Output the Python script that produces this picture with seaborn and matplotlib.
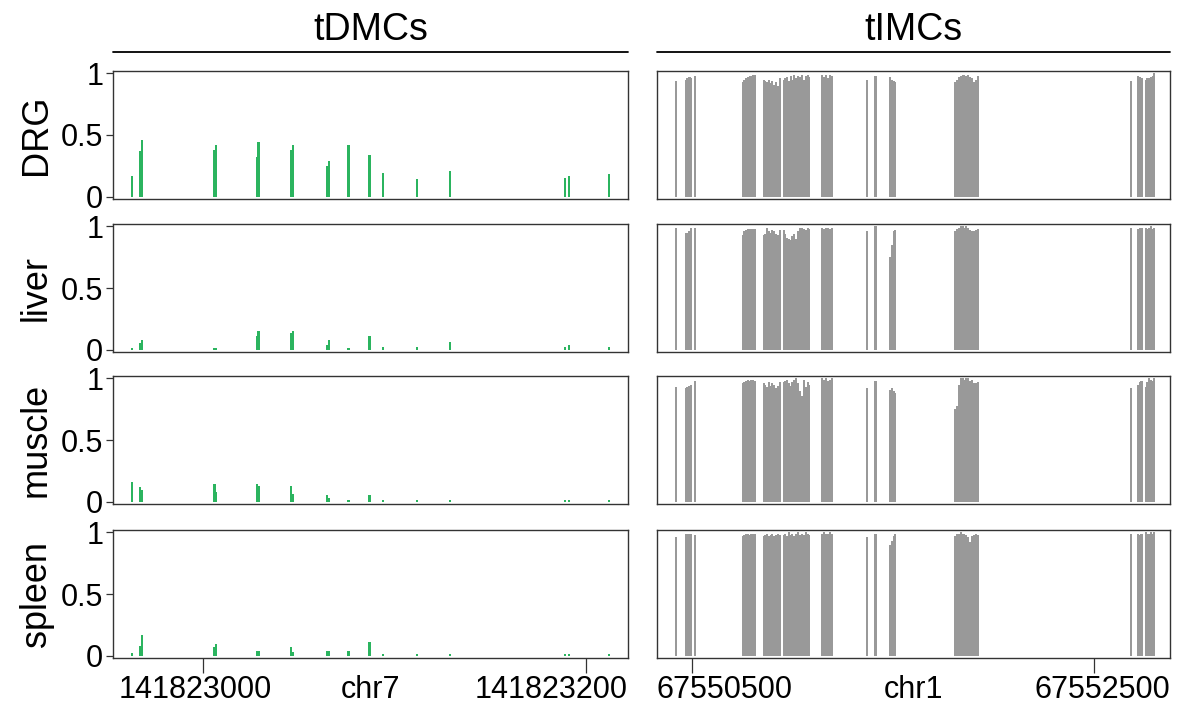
import numpy as np
import pandas as pd
import matplotlib
matplotlib.use("Agg")
import matplotlib.pyplot as plt
import seaborn as sns

# ---------------- data ----------------
tissues = ["DRG", "liver", "muscle", "spleen"]

# tDMCs on chr7
dmc_chrom = "chr7"
dmc_pos = [141822963, 141822967, 141822968, 141823006, 141823007, 141823028, 141823029,
           141823046, 141823047, 141823065, 141823066, 141823076, 141823087, 141823094,
           141823112, 141823129, 141823189, 141823191, 141823212]
dmc_DRG = [0.17, 0.37, 0.46, 0.38, 0.42, 0.32, 0.44, 0.38, 0.42, 0.25, 0.29, 0.42, 0.34,
           0.19, 0.14, 0.21, 0.15, 0.17, 0.18]
dmc_liver = [0.01, 0.05, 0.08, 0.01, 0.01, 0.11, 0.15, 0.135, 0.15, 0.04, 0.08, 0.01, 0.11,
             0.02, 0.02, 0.06, 0.02, 0.04, 0.02]
dmc_muscle = [0.16, 0.12, 0.09, 0.14, 0.08, 0.14, 0.125, 0.13, 0.06, 0.055, 0.03, 0.015, 0.05,
              0.01, 0.01, 0.015, 0.01, 0.01, 0.01]
dmc_spleen = [0.02, 0.08, 0.17, 0.07, 0.09, 0.04, 0.04, 0.07, 0.03, 0.04, 0.04, 0.04, 0.11,
              0.01, 0.01, 0.01, 0.01, 0.015, 0.01]
dmc_ticks = [141823000, 141823200]
dmc_xlim = (141822953, 141823222)

# tIMCs on chr1
imc_chrom = "chr1"
imc_pos = [67550418,
           67550467, 67550473, 67550480, 67550486, 67550492,
           67550513,
           67550752, 67550760, 67550769, 67550777, 67550786, 67550795, 67550804, 67550813,
           67550855, 67550863, 67550872, 67550881, 67550890, 67550898, 67550908, 67550917,
           67550927, 67550937,
           67550955, 67550963, 67550972, 67550981, 67550990, 67550999, 67551009, 67551018,
           67551027, 67551037, 67551046, 67551056, 67551065, 67551075, 67551084,
           67551148, 67551157, 67551166, 67551176, 67551185, 67551194,
           67551369,
           67551413,
           67551487, 67551495, 67551503, 67551510,
           67551811, 67551820, 67551829, 67551838, 67551847, 67551856, 67551865, 67551875,
           67551884, 67551893, 67551905, 67551913, 67551922,
           67552687,
           67552721, 67552730, 67552739,
           67552759, 67552768, 67552777, 67552786, 67552795, 67552803]
imc_DRG = [0.94,
           0.95, 0.96, 0.96, 0.97, 0.96,
           0.98,
           0.93, 0.95, 0.96, 0.97, 0.98, 0.98, 0.99, 0.99,
           0.95, 0.94, 0.93, 0.95, 0.92, 0.94, 0.91, 0.93, 0.90, 0.96,
           0.95, 0.96, 0.97, 0.94, 0.98, 0.95, 0.99, 0.96, 0.98, 0.97, 0.99, 0.95, 0.98, 0.99, 0.97,
           0.99, 0.97, 0.99, 0.96, 0.99, 0.98,
           0.95,
           0.98,
           0.97, 0.95, 0.94, 0.93,
           0.93, 0.95, 0.97, 0.98, 0.99, 0.99, 0.98, 0.99, 0.97, 0.96, 0.93, 0.95, 0.98,
           0.94,
           0.98, 0.97, 0.96,
           0.95, 0.96, 0.96, 0.97, 0.98, 1.00]
imc_liver = [0.99,
             0.95, 0.95, 0.95, 0.96, 0.99,
             0.99,
             0.93, 0.96, 0.97, 0.98, 0.98, 0.98, 0.98, 0.98,
             0.93, 0.94, 0.99, 0.96, 0.95, 0.97, 0.96, 0.94, 0.93, 0.97,
             0.97, 0.94, 0.91, 0.90, 0.89, 0.92, 0.94, 0.90, 0.96, 0.99, 0.99, 0.98, 0.97, 0.99, 0.98,
             0.99, 0.98, 0.99, 0.99, 0.98, 0.99,
             0.96,
             1.00,
             0.75, 0.85, 0.96, 0.97,
             0.96, 0.98, 0.99, 1.00, 1.00, 0.99, 1.00, 0.99, 0.97, 0.96, 0.96, 0.97, 0.98,
             0.99,
             0.98, 0.99, 0.99,
             0.99, 0.98, 0.99, 1.00, 0.98, 0.99]
imc_muscle = [0.93,
              0.92, 0.93, 0.93, 0.94, 0.95,
              0.98,
              0.96, 0.97, 0.98, 0.99, 0.98, 0.99, 0.99, 0.98,
              0.96, 0.95, 0.93, 0.97, 0.94, 0.96, 0.95, 0.92, 0.94, 0.97,
              0.97, 0.98, 0.99, 0.96, 0.94, 0.97, 0.99, 1.00, 0.96, 0.90, 0.86, 0.99, 0.93, 0.97, 0.95,
              1.00, 0.99, 1.00, 0.98, 0.99, 1.00,
              0.92,
              0.98,
              0.91, 0.92, 0.90, 0.88,
              0.75, 0.78, 0.95, 1.00, 1.00, 0.99, 1.00, 1.00, 0.98, 0.99, 0.96, 0.96, 0.97,
              0.92,
              0.95, 0.97, 0.98,
              0.93, 0.97, 1.00, 0.99, 0.98, 1.00]
imc_spleen = [0.96,
              0.99, 0.99, 0.98, 0.99, 0.99,
              0.98,
              0.97, 0.98, 0.99, 0.99, 0.98, 0.99, 0.99, 0.99,
              0.97, 0.98, 0.99, 0.97, 0.98, 0.99, 0.97, 0.98, 0.99, 0.98,
              0.98, 0.99, 0.97, 1.00, 0.98, 0.99, 0.97, 0.99, 1.00, 0.98, 0.99, 0.98, 1.00, 0.99, 0.98,
              0.99, 1.00, 0.99, 0.99, 1.00, 0.99,
              0.96,
              0.99,
              0.90, 0.93, 0.97, 0.99,
              0.97, 0.99, 0.99, 1.00, 0.99, 0.99, 0.98, 0.96, 0.92, 0.97, 0.98, 0.99, 0.98,
              0.99,
              0.99, 0.98, 0.99,
              1.00, 0.99, 0.99, 1.00, 0.99, 1.00]
imc_ticks = [67550500, 67552500]
imc_xlim = (67550324, 67552881)


# ---------------- long tables ----------------
dmc_df = pd.DataFrame({"pos": dmc_pos, "DRG": dmc_DRG, "liver": dmc_liver,
                       "muscle": dmc_muscle, "spleen": dmc_spleen})
dmc_df = dmc_df.melt(id_vars="pos", var_name="tissue", value_name="meth")
imc_df = pd.DataFrame({"pos": imc_pos, "DRG": imc_DRG, "liver": imc_liver,
                       "muscle": imc_muscle, "spleen": imc_spleen})
imc_df = imc_df.melt(id_vars="pos", var_name="tissue", value_name="meth")

columns = [
    dict(df=dmc_df, title="tDMCs", color="#2bb45f", width=1.1,
         ticks=dmc_ticks, xlim=dmc_xlim, chrom=dmc_chrom),
    dict(df=imc_df, title="tIMCs", color="#999999", width=1.7,
         ticks=imc_ticks, xlim=imc_xlim, chrom=imc_chrom),
]

# ---------------- plot ----------------
sns.set_theme(style="ticks", rc={"text.color": "black", "xtick.color": "black",
                                 "ytick.color": "black", "axes.labelcolor": "black"})
plt.rcParams["font.family"] = ["Liberation Sans", "DejaVu Sans"]

W, H = 1184, 708
fig = plt.figure(figsize=(W / 100, H / 100), dpi=100)

col_x = [113, 657]
col_w = [515, 513]
row_top = [71, 224, 376, 530]
row_h = 128

tick_fs = 22
edge = "#333333"

for c, col in enumerate(columns):
    for r, tissue in enumerate(tissues):
        ax = fig.add_axes([col_x[c] / W, 1 - (row_top[r] + row_h) / H,
                           col_w[c] / W, row_h / H])
        sub = col["df"][col["df"]["tissue"] == tissue]
        sns.barplot(data=sub, x="pos", y="meth", native_scale=True, orient="x",
                    width=col["width"], color=col["color"], saturation=1,
                    errorbar=None, linewidth=0, ax=ax)
        ax.set_xlim(*col["xlim"])
        ax.set_ylim(-0.02, 1.02)
        ax.set_xlabel("")
        ax.set_ylabel("")
        for s in ax.spines.values():
            s.set_visible(True)
            s.set_color(edge)
            s.set_linewidth(1.0)

        if c == 0:
            ax.set_yticks([0, 0.5, 1])
            ax.set_yticklabels(["0", "0.5", "1"], fontsize=tick_fs)
            ax.tick_params(axis="y", length=5, width=0.9, pad=2, color=edge)
            ax.set_ylabel(tissue, fontsize=26)
            ax.yaxis.set_label_coords(-0.115, 0.5)
        else:
            ax.set_yticks([])

        if r == len(tissues) - 1:
            ax.set_xticks(col["ticks"])
            ax.set_xticklabels(["", ""])
            ax.tick_params(axis="x", length=11, width=0.9, color=edge)
            tr = ax.get_xaxis_transform()
            ly = -0.31
            if c == 0:
                ax.text(col["ticks"][0] - 4, ly, str(col["ticks"][0]), transform=tr,
                        ha="center", va="baseline", fontsize=tick_fs)
                ax.text(1.0, ly, str(col["ticks"][1]), transform=ax.transAxes,
                        ha="right", va="baseline", fontsize=tick_fs)
            else:
                ax.text(0.0, ly, str(col["ticks"][0]), transform=ax.transAxes,
                        ha="left", va="baseline", fontsize=tick_fs)
                ax.text(1.0, ly, str(col["ticks"][1]), transform=ax.transAxes,
                        ha="right", va="baseline", fontsize=tick_fs)
            ax.text(0.5, ly, col["chrom"], transform=ax.transAxes,
                    ha="center", va="baseline", fontsize=tick_fs)
        else:
            ax.set_xticks([])

        if r == 0:
            ax.plot([0, 1], [1.148, 1.148], transform=ax.transAxes, clip_on=False,
                    color="black", lw=1.3)
            ax.text(0.5, 1.24, col["title"], transform=ax.transAxes,
                    ha="center", va="baseline", fontsize=27)

fig.savefig("out.png", dpi=100)
